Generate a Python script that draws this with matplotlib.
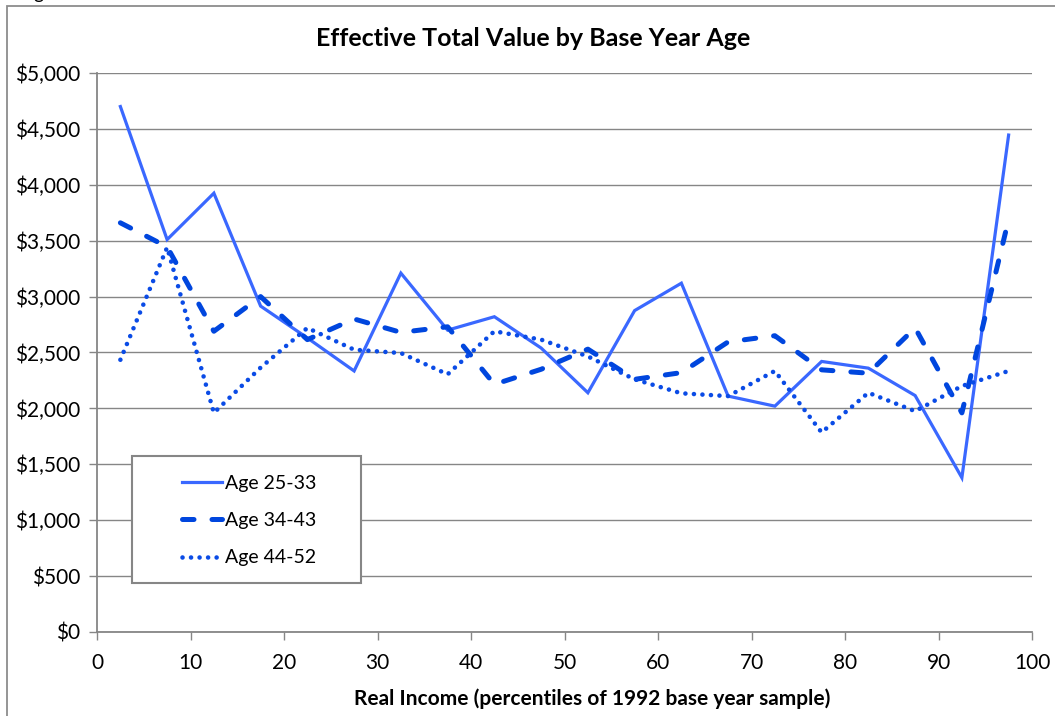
import matplotlib
matplotlib.use("Agg")
import matplotlib.pyplot as plt
from matplotlib.patches import Rectangle
from matplotlib.ticker import FuncFormatter

plt.rcParams['font.family'] = ['Lato', 'DejaVu Sans']

# percentile midpoints of each 5% income bin
percentile = [2.5, 7.5, 12.5, 17.5, 22.5, 27.5, 32.5, 37.5, 42.5, 47.5,
              52.5, 57.5, 62.5, 67.5, 72.5, 77.5, 82.5, 87.5, 92.5, 97.5]

age_25_33 = [4700, 3510, 3925, 2915, 2630, 2335, 3210, 2700, 2820, 2540,
             2140, 2875, 3120, 2110, 2020, 2420, 2360, 2115, 1380, 4445]
age_34_43 = [3660, 3445, 2690, 3000, 2615, 2800, 2680, 2730, 2215, 2350,
             2530, 2260, 2320, 2595, 2650, 2345, 2315, 2720, 1960, 3690]
age_44_52 = [2435, 3440, 1960, 2365, 2720, 2525, 2495, 2305, 2690, 2615,
             2465, 2260, 2135, 2110, 2335, 1785, 2140, 1975, 2200, 2335]

labels = ['Age 25-33', 'Age 34-43', 'Age 44-52']
grey = '#868686'

W, H = 1055, 716
fig = plt.figure(figsize=(W / 100, H / 100), dpi=100)
ax = fig.add_axes([97 / W, 1 - 632 / H, (1032 - 97) / W, (632 - 73) / H])

l1, = ax.plot(percentile, age_25_33, color='#3A68FF', lw=2.3,
              solid_joinstyle='miter')
l2, = ax.plot(percentile, age_34_43, color='#0046DE', lw=3.6,
              linestyle=(0, (2.3, 3.6)), dash_capstyle='round')
l3, = ax.plot(percentile, age_44_52, color='#0A4BE6', lw=3.3,
              linestyle=(0, (0.01, 1.85)), dash_capstyle='round')

ax.set_xlim(0, 100)
ax.set_ylim(0, 5000)
ax.set_xticks(range(0, 101, 10))
ax.set_yticks(range(0, 5001, 500))
ax.yaxis.set_major_formatter(FuncFormatter(lambda v, p: '${:,.0f}'.format(v)))
ax.grid(axis='y', color=grey, lw=1)
ax.set_axisbelow(True)
for s in ['top', 'right']:
    ax.spines[s].set_visible(False)
for s in ['left', 'bottom']:
    ax.spines[s].set_color(grey)
    ax.spines[s].set_linewidth(1.3)
ax.tick_params(axis='both', colors=grey, labelcolor='black', labelsize=15,
               length=6, width=1)
ax.tick_params(axis='x', pad=9)
ax.tick_params(axis='y', pad=6)

fig.text(533 / W, 1 - 38 / H, 'Effective Total Value by Base Year Age',
         ha='center', va='center', fontsize=18, fontweight='bold')
fig.text(592 / W, 1 - 699 / H,
         'Real Income (percentiles of 1992 base year sample)',
         ha='center', va='center', fontsize=15, fontweight='bold')

# stray glyph cut off at the top edge
fig.text(33 / W, 1.0 + 1 / H, 'g', ha='left', va='baseline', fontsize=14)

# outer chart frame
fig.patches.append(Rectangle((7 / W, -0.1), 2, 1.1 - 6 / H, transform=fig.transFigure,
                             fill=False, edgecolor='#8c8c8c', lw=1.3))

# legend box
fig.patches.append(Rectangle((132 / W, 1 - 583 / H), (361 - 132) / W, (583 - 456) / H,
                             transform=fig.transFigure, facecolor='white',
                             edgecolor=grey, lw=1.5, zorder=5))
leg = fig.legend([l1, l2, l3], labels, loc='upper left',
                 bbox_to_anchor=(164 / W, 1 - 457 / H), frameon=False,
                 fontsize=14, handlelength=2.1, handletextpad=0.12,
                 labelspacing=1.05)
leg.set_zorder(6)

fig.savefig('out.png', dpi=100)
